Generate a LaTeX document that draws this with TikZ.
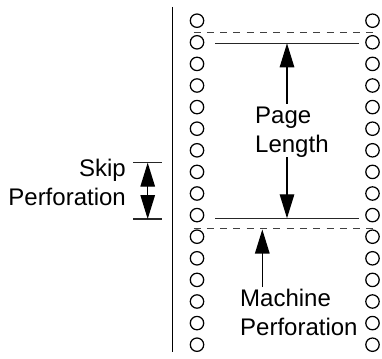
\documentclass[tikz,border=0pt]{standalone}
\usepackage{fontspec}
\setmainfont{Liberation Sans}
\usetikzlibrary{arrows.meta}
\begin{document}
\begin{tikzpicture}[x=1pt,y=-1pt,
  hole/.style={draw,line width=1.25pt,circle,minimum size=13.4pt,inner sep=0pt},
  rule/.style={line width=1.4pt,draw=black!85},
  dashrule/.style={line width=1.4pt,draw=black!75,dash pattern=on 7pt off 6.3pt},
  margin/.style={line width=1.4pt},
  dim/.style={line width=1.3pt,>={Triangle[length=24pt,width=14.5pt]}},
  lbl/.style={inner sep=0pt,font=\fontsize{24}{29}\selectfont}
]
\useasboundingbox (0,0) rectangle (382,358);
% margin line
\coordinate (mtop) at (172.5,7);
\coordinate (mbot) at (172.5,352);
\draw[margin] (mtop) -- (mbot);
% holes
\foreach \i in {0,...,15}{
  \node[hole] (hl\i) at (197,20.7+21.6*\i) {};
  \node[hole] (hr\i) at (372.5,20.7+21.6*\i) {};
}
% perforations (dashed) and page lines (solid)
\coordinate (d1a) at (193.5,32.7); \coordinate (d1b) at (377,32.7);
\coordinate (d2a) at (193.5,228.3); \coordinate (d2b) at (377,228.3);
\draw[dashrule] (d1a) -- (d1b);
\draw[dashrule] (d2a) -- (d2b);
\coordinate (s1a) at (215,43.3); \coordinate (s1b) at (359,43.3);
\coordinate (s2a) at (215,218.3); \coordinate (s2b) at (359,218.3);
\draw[rule] (s1a) -- (s1b);
\draw[rule] (s2a) -- (s2b);
% Page Length
\node[lbl,anchor=north west,align=left] (pl) at (255,106.5) {Page\\Length};
\coordinate (pltop) at (287,43.3);
\coordinate (plup) at (287,104);
\coordinate (pldown) at (287,157);
\coordinate (plbot) at (287,218.3);
\draw[dim,->] (plup) -- (pltop);
\draw[dim,->] (pldown) -- (plbot);
% Machine Perforation
\node[lbl,anchor=north west,align=left] (mp) at (240,289) {Machine\\Perforation};
\coordinate (mptip) at (262.3,229.5);
\coordinate (mptail) at (262.3,287);
\draw[dim,->] (mptail) -- (mptip);
% Skip Perforation
\node[lbl,anchor=north east,align=right] (sp) at (126,158.5) {Skip\\Perforation};
\coordinate (sk1a) at (133,162.7); \coordinate (sk1b) at (162,162.7);
\coordinate (sk2a) at (133,219); \coordinate (sk2b) at (162,219);
\draw[rule] (sk1a) -- (sk1b);
\draw[rule] (sk2a) -- (sk2b);
\coordinate (sktop) at (147.7,162.7);
\coordinate (skbot) at (147.7,219);
\draw[dim,<->] (sktop) -- (skbot);
\end{tikzpicture}
\end{document}
